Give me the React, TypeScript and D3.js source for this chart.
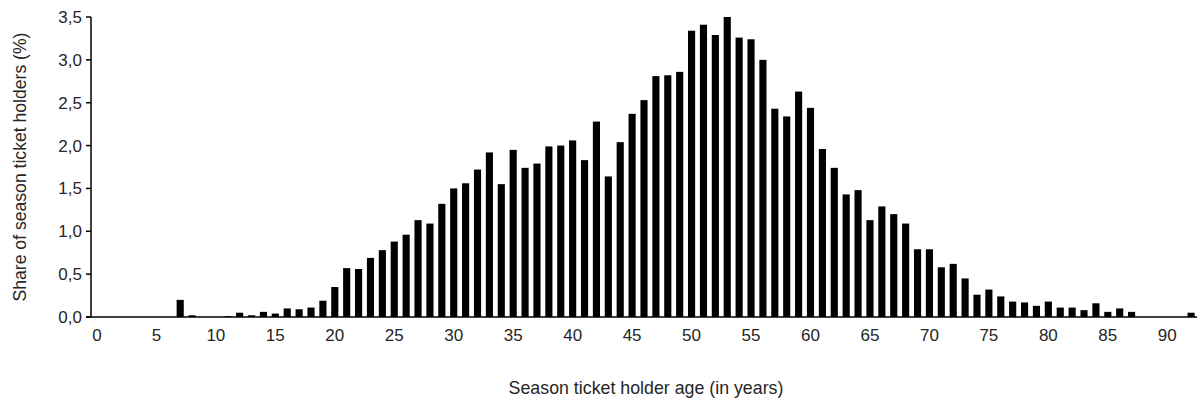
import React from "react";
import * as d3 from "d3";

const ages: number[] = d3.range(0, 93);
const shares: number[] = [
  0, 0, 0, 0, 0, 0, 0, 0.2, 0.02, 0,
  0, 0.01, 0.05, 0.02, 0.06, 0.04, 0.1, 0.09, 0.11, 0.19,
  0.35, 0.57, 0.56, 0.69, 0.78, 0.88, 0.96, 1.13, 1.09, 1.32,
  1.5, 1.56, 1.72, 1.92, 1.55, 1.95, 1.74, 1.79, 1.99, 2.0,
  2.06, 1.83, 2.28, 1.64, 2.04, 2.37, 2.53, 2.81, 2.82, 2.86,
  3.34, 3.41, 3.29, 3.5, 3.26, 3.24, 3.0, 2.43, 2.34, 2.63,
  2.44, 1.96, 1.74, 1.43, 1.48, 1.13, 1.29, 1.2, 1.09, 0.79,
  0.79, 0.58, 0.62, 0.45, 0.26, 0.32, 0.24, 0.18, 0.17, 0.13,
  0.18, 0.11, 0.11, 0.08, 0.16, 0.06, 0.1, 0.06, 0, 0,
  0, 0, 0.05,
];
const yTicks: number[] = [0, 0.5, 1, 1.5, 2, 2.5, 3, 3.5];
const xTickAges: number[] = [0, 5, 10, 15, 20, 25, 30, 35, 40, 45, 50, 55, 60, 65, 70, 75, 80, 85, 90];
const xTitle = "Season ticket holder age (in years)";
const yTitle = "Share of season ticket holders (%)";

const W = 1202;
const H = 411;
const left = 91;
const right = 1197;
const top = 17;
const bottom = 317;
const font = "'Liberation Sans', Arial, sans-serif";

export default function App() {
  const x = d3
    .scaleBand<number>()
    .domain(ages)
    .range([left, right])
    .paddingInner(0.4)
    .paddingOuter(0.2);
  const y = d3.scaleLinear().domain([0, 3.5]).range([bottom, top]);
  const fmt = (v: number) => v.toFixed(1).replace(".", ",");

  return (
    <svg
      width={W}
      height={H}
      style={{ position: "absolute", left: 0, top: 0, background: "#fff" }}
      fontFamily={font}
    >
      {ages.map((a, i) => (
        <rect
          key={a}
          x={x(a)}
          y={y(shares[i])}
          width={x.bandwidth()}
          height={bottom - y(shares[i])}
          fill="#000"
        />
      ))}
      <line x1={left} x2={left} y1={top} y2={bottom} stroke="#000" strokeWidth={1.5} />
      <line x1={left - 5} x2={right} y1={bottom} y2={bottom} stroke="#000" strokeWidth={1.5} />
      {yTicks.map((t) => (
        <g key={t}>
          <line x1={left - 5} x2={left} y1={y(t)} y2={y(t)} stroke="#000" strokeWidth={1.5} />
          <text
            x={left - 9}
            y={y(t)}
            dy="0.35em"
            textAnchor="end"
            fontSize={17}
            fill="#262626"
          >
            {fmt(t)}
          </text>
        </g>
      ))}
      {xTickAges.map((a) => (
        <text
          key={a}
          x={(x(a) as number) + x.bandwidth() / 2}
          y={341}
          textAnchor="middle"
          fontSize={17}
          fill="#262626"
        >
          {a}
        </text>
      ))}
      <text x={646} y={394} textAnchor="middle" fontSize={17.8} fill="#262626">
        {xTitle}
      </text>
      <text
        transform={`translate(26,167) rotate(-90)`}
        textAnchor="middle"
        fontSize={17.6}
        fill="#262626"
      >
        {yTitle}
      </text>
    </svg>
  );
}
